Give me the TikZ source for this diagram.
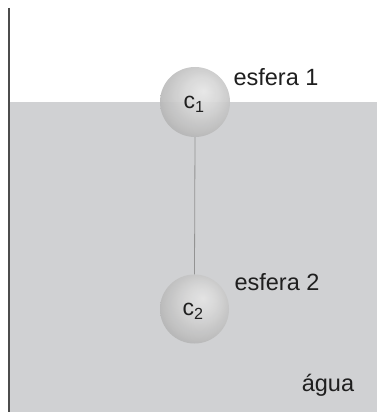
\documentclass[tikz,border=0pt]{standalone}
\usepackage{fontspec}
\setmainfont{Liberation Sans}
\pgfdeclareradialshading{sph}{\pgfpoint{6bp}{8bp}}{color(0bp)=(black!10); color(12bp)=(black!16); color(26bp)=(black!26); color(34bp)=(black!34); color(50bp)=(black!34)}
\begin{document}
\begin{tikzpicture}[x=1pt,y=-1pt,
  lbl/.style={font=\fontsize{23.5}{26}\selectfont, text=black!88, inner sep=0pt},
  clbl/.style={font=\fontsize{23}{25}\selectfont, text=black!88, inner sep=0pt},
  sphere/.style={circle, minimum size=70pt, inner sep=0pt, shading=sph, opacity=0.92},
  wire/.style={draw=gray!85, line width=0.8pt}]
\definecolor{waterc}{RGB}{208,209,211}
\useasboundingbox (0,0) rectangle (377,412);
\fill[white] (0,0) rectangle (377,412);
\fill[waterc] (10,102) rectangle (377,412);
\draw[line width=1.6pt, black!70] (9,8) -- (9,412);
\node[sphere] (s1) at (195,102) {};
\node[sphere, minimum size=69pt] (s2) at (194.5,309) {};
\draw[wire] (s1.south) -- (s2.north);
\node[clbl] (c1) at (194,104) {c\textsubscript{1}};
\node[clbl] (c2) at (193,311) {c\textsubscript{2}};
\node[lbl] (e1) at (276,77) {esfera 1};
\node[lbl] (e2) at (277,282) {esfera 2};
\node[lbl] (ag) at (328,385) {água};
\end{tikzpicture}
\end{document}
